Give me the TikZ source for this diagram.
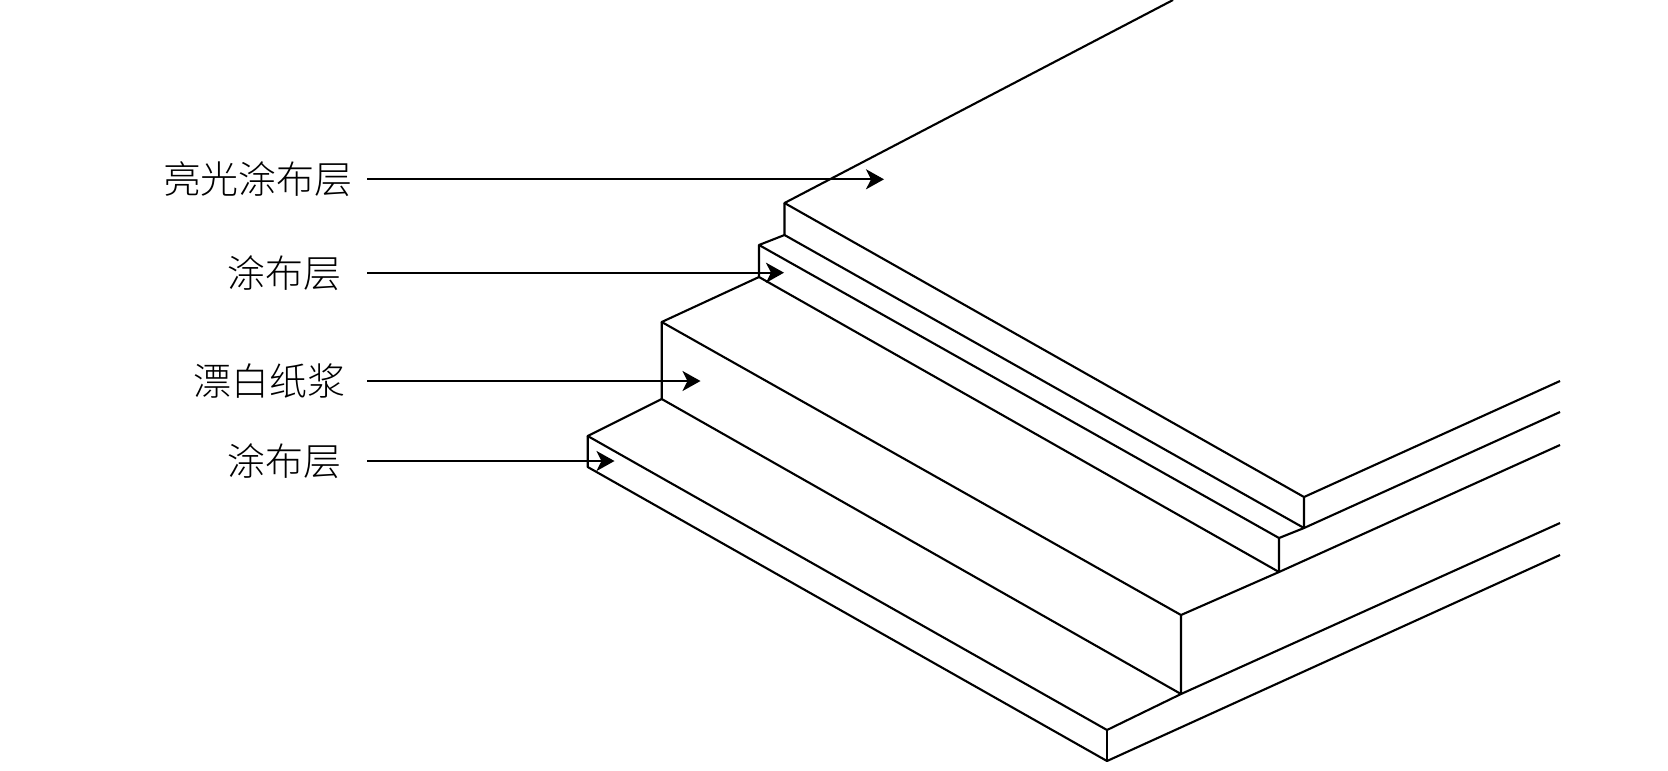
\documentclass[tikz,border=0pt]{standalone}
\usepackage{fontspec}
\usepackage{tikz}
\usetikzlibrary{arrows.meta}
\newfontfamily\cjk[UprightFont=* Light]{Noto Sans CJK SC}
\tikzset{
	layername/.style = {anchor = east, inner sep = 0pt, font = \cjk\fontsize{10.8pt}{12pt}\selectfont},
	leader/.style = {-{Stealth[length = 1.8mm, width = 2mm, inset = 0.5mm]}, line width = 0.6pt},
	edge/.style = {line width = 0.6pt, line join = round}
}

\begin{document}
\begin{tikzpicture}[x = 0.1mm, y = -0.1mm]
	\useasboundingbox (0, 0) rectangle (1668, 770);
	\draw [edge] (1173, 0) -- (784.5, 203) -- (1304, 497) -- (1560, 381);
	\draw [edge] (784.5, 203) -- (784.5, 235) -- (1304, 528) -- (1560, 412);
	\draw [edge] (1304, 497) -- (1304, 528) -- (1279, 538) -- (759, 245) -- (784.5, 235);
	\draw [edge] (759, 245) -- (759, 277) -- (1279, 572) -- (1560, 445);
	\draw [edge] (1279, 538) -- (1279, 572) -- (1181, 615) -- (661.7, 322) -- (759, 277);
	\draw [edge] (661.7, 322) -- (661.7, 399) -- (1181, 694) -- (1560, 523);
	\draw [edge] (1181, 615) -- (1181, 694) -- (1107, 730) -- (587.7, 436) -- (661.7, 399);
	\draw [edge] (587.7, 436) -- (587.7, 467) -- (1107, 761) -- (1560, 555);
	\draw [edge] (1107, 730) -- (1107, 761);
	\node (gloss) at (367, 179.3) [layername, outer xsep = 1.42mm] {亮光涂布层};
	\node (upper) at (367, 272.7) [layername, outer xsep = 2.55mm] {涂布层};
	\node (pulp) at (367, 381) [layername, outer xsep = 2.15mm] {漂白纸浆};
	\node (lower) at (367, 461) [layername, outer xsep = 2.55mm] {涂布层};
	\coordinate (glosstip) at (884, 179.3);
	\coordinate (uppertip) at (784, 272.7);
	\coordinate (pulptip) at (700.5, 381);
	\coordinate (lowertip) at (614.5, 461);
	\draw [leader] (gloss) -- (glosstip);
	\draw [leader] (upper) -- (uppertip);
	\draw [leader] (pulp) -- (pulptip);
	\draw [leader] (lower) -- (lowertip);
\end{tikzpicture}
\end{document}
